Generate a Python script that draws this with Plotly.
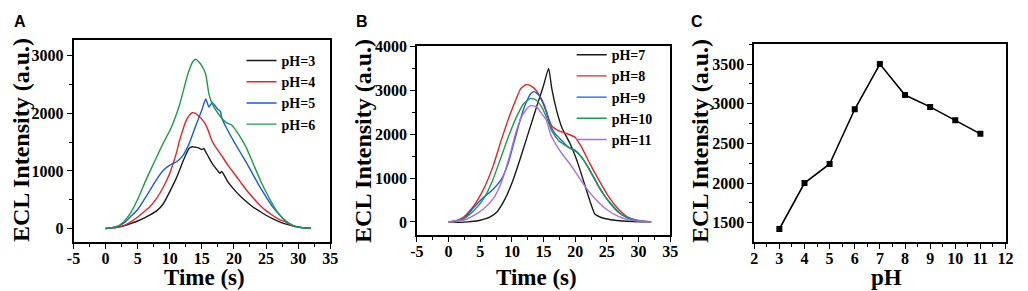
import plotly.graph_objects as go

# ---------------- Panel A data ----------------
a_t_ph3 = [0,1,2,3,4,5,6,7,8,9,10,11,12,12.5,13,13.5,14,14.5,15,15.3,15.6,16,16.5,17,17.5,17.8,18.1,19,20,21,22,23,24,25,26,27,28,29,30,31,32]
a_v_ph3 = [0,10,25,50,90,130,180,240,310,430,640,870,1150,1280,1390,1420,1410,1400,1370,1390,1330,1250,1150,1070,1000,960,990,820,680,560,460,370,300,230,170,120,80,50,25,10,5]
a_t_ph4 = [0,1,2,3,4,5,6,7,8,9,10,10.5,11,11.5,12,12.5,13,13.5,14,14.5,15,15.5,16,16.5,17,18,19,20,21,22,23,24,25,26,27,28,29,29.6]
a_v_ph4 = [0,8,25,60,120,200,290,390,530,720,960,1120,1300,1520,1700,1860,1960,2010,2000,1950,1900,1820,1700,1540,1440,1280,1110,960,810,660,530,410,310,230,160,115,55,25]
a_t_ph5 = [0,1,2,3,4,5,6,7,8,9,10,11,12,13,14,15,15.6,16.1,16.6,17.4,17.9,18.1,19,20,21,22,23,24,25,26,27,28,29,30,31,32]
a_v_ph5 = [0,15,40,110,220,330,500,680,860,1010,1100,1155,1260,1470,1770,2060,2250,2110,2190,2080,2030,1920,1710,1510,1320,1130,930,730,550,380,250,140,60,25,10,5]
a_t_ph6 = [0,1,2,2.5,3,3.8,5,6.3,7.7,8.9,10.2,11.5,12.8,13.6,14.1,14.9,15.6,16.1,16.6,17.7,18.9,19.6,20.9,21.9,23,24.3,25.6,26.8,28.1,29.4,30.5,31.5,32]
a_v_ph6 = [0,15,45,85,140,253,507,845,1182,1464,1746,2140,2675,2900,2938,2843,2675,2337,2168,1971,1830,1802,1605,1408,1126,789,507,282,124,45,15,5,0]

# ---------------- Panel B data ----------------
b_t_ph7 = [0,1,2,3,4,5,6,6.5,7.6,8.9,10.2,11.4,12.7,14.0,15.0,15.8,16.3,17.1,17.9,19.2,20,20.5,21.5,22.5,23.1,24.1,25.6,27,28.2,30,32]
b_v_ph7 = [0,-10,-10,0,15,37,80,111,222,518,963,1481,2074,2667,3111,3500,3037,2518,2148,1780,1500,1300,850,400,180,100,50,25,15,5,0]
b_t_ph8 = [0,1,2.4,4,5.5,7,8.3,9.6,10.7,11.4,12.2,13,13.8,14.8,15.6,16.3,17.4,18.9,20,21,22.3,23.7,25.2,26.8,28.3,29.8,32]
b_v_ph8 = [0,20,111,370,740,1260,1852,2407,2815,3037,3126,3100,3000,2741,2444,2185,2074,2000,1926,1704,1333,963,593,296,111,37,0]
b_t_ph9 = [0,1,2.4,4,5.5,7,8.3,9.4,10.4,11.4,12.2,13,13.5,14.3,15.1,15.6,16.1,16.9,17.9,18.9,20,21,22.3,23.7,25.2,26.8,28.3,29.8,32]
b_v_ph9 = [0,15,74,333,555,740,963,1333,1852,2370,2704,2926,2970,2889,2667,2444,2185,2000,1852,1704,1630,1481,1185,815,481,222,89,30,0]
b_t_ph10 = [0,1,2.4,4,5.5,7,8.3,9.6,10.9,11.9,13,13.8,14.8,15.6,16.3,17.4,18.9,20.2,21.5,22.8,24.1,25.7,27.2,28.8,30.3,32]
b_v_ph10 = [0,15,74,259,518,963,1481,2000,2444,2704,2815,2778,2593,2333,2074,1852,1704,1593,1370,1037,704,407,185,74,15,0]
b_t_ph11 = [0,1,2.4,4,5.5,7,8.3,9.6,10.7,11.7,12.7,13.2,14,14.8,15.4,16.1,16.9,17.9,18.9,20,21,22.3,23.7,25.2,26.8,28.3,30.3,32]
b_v_ph11 = [0,10,37,148,296,518,889,1481,2074,2444,2630,2650,2611,2444,2333,2000,1778,1556,1370,1148,926,667,444,259,126,52,15,0]

# ---------------- Panel C data ----------------
c_ph = [3, 4, 5, 6, 7, 8, 9, 10, 11]
c_intensity = [1420, 2000, 2240, 2930, 3500, 3110, 2960, 2790, 2620]

# ---------------- tick labels ----------------
time_ticks = [-5, 0, 5, 10, 15, 20, 25, 30, 35]
time_ticktext = ["-5", "0", "5", "10", "15", "20", "25", "30", "35"]
a_yticks = [0, 1000, 2000, 3000]
b_yticks = [0, 1000, 2000, 3000, 4000]
c_xticks = [2, 3, 4, 5, 6, 7, 8, 9, 10, 11, 12]
c_yticks = [1500, 2000, 2500, 3000, 3500]

BLACK = "#1a1a1a"
RED = "#e0262b"
BLUE = "#1c5ad6"
GREEN = "#22994a"
PURPLE = "#a86ee6"

FONT = "Liberation Serif"
W, H = 1028, 291

fig = go.Figure()

def add_line(t, v, name, color, xa, ya, legend):
    fig.add_trace(go.Scatter(x=t, y=v, mode="lines", name=name,
                             line=dict(color=color, width=1.4, shape="spline", smoothing=0.5),
                             xaxis=xa, yaxis=ya, legend=legend))

add_line(a_t_ph3, a_v_ph3, "pH=3", BLACK, "x", "y", "legend")
add_line(a_t_ph4, a_v_ph4, "pH=4", RED, "x", "y", "legend")
add_line(a_t_ph5, a_v_ph5, "pH=5", BLUE, "x", "y", "legend")
add_line(a_t_ph6, a_v_ph6, "pH=6", GREEN, "x", "y", "legend")

add_line(b_t_ph7, b_v_ph7, "pH=7", BLACK, "x2", "y2", "legend2")
add_line(b_t_ph8, b_v_ph8, "pH=8", RED, "x2", "y2", "legend2")
add_line(b_t_ph9, b_v_ph9, "pH=9", BLUE, "x2", "y2", "legend2")
add_line(b_t_ph10, b_v_ph10, "pH=10", GREEN, "x2", "y2", "legend2")
add_line(b_t_ph11, b_v_ph11, "pH=11", PURPLE, "x2", "y2", "legend2")

fig.add_trace(go.Scatter(x=c_ph, y=c_intensity, mode="lines+markers",
                         line=dict(color="black", width=1.6),
                         marker=dict(symbol="square", size=6, color="black"),
                         xaxis="x3", yaxis="y3", showlegend=False))

def px_x(p):
    return p / W

def px_y(p):
    return 1 - p / H

def bold(labels):
    return ["<b>%s</b>" % l for l in labels]

def axis_style(vals, texts, standoff=0):
    return dict(showline=True, linecolor="black", linewidth=1.5, mirror=True,
                ticks="outside", ticklen=5, tickwidth=1.3, tickcolor="black",
                showgrid=False, zeroline=False, ticklabelstandoff=standoff,
                tickmode="array", tickvals=vals, ticktext=bold(texts),
                tickfont=dict(family=FONT, size=16, color="black", weight="bold"))

def minor(t0, dt):
    return dict(tickmode="linear", tick0=t0, dtick=dt, ticks="outside", ticklen=3, tickcolor="black")

fig.update_layout(
    width=W, height=H,
    margin=dict(l=0, r=0, t=0, b=0),
    paper_bgcolor="white", plot_bgcolor="white",
    xaxis=dict(domain=[px_x(67.5), px_x(328)], anchor="y", range=[-5, 35], minor=minor(-5, 2.5),
               **axis_style(time_ticks, time_ticktext, -4)),
    yaxis=dict(domain=[px_y(240.7), px_y(33.3)], anchor="x", range=[-236, 3267], minor=minor(0, 500),
               **axis_style(a_yticks, [str(v) for v in a_yticks])),
    xaxis2=dict(domain=[px_x(416), px_x(673)], anchor="y2", range=[-5, 35], minor=minor(-5, 2.5),
                **axis_style(time_ticks, time_ticktext, -4)),
    yaxis2=dict(domain=[px_y(233.3), px_y(39.5)], anchor="x2", range=[-296, 4000], minor=minor(0, 500),
                **axis_style(b_yticks, [str(v) for v in b_yticks])),
    xaxis3=dict(domain=[px_x(758.3), px_x(1013.3)], anchor="y3", range=[2, 12], minor=minor(2, 0.5),
                **axis_style(c_xticks, [str(v) for v in c_xticks], -4)),
    yaxis3=dict(domain=[px_y(240.7), px_y(36.7)], anchor="x3", range=[1255, 3757], minor=minor(1500, 250),
                **axis_style(c_yticks, [str(v) for v in c_yticks])),
    legend=dict(x=px_x(238), y=px_y(38), xanchor="left", yanchor="top",
                bgcolor="rgba(0,0,0,0)", font=dict(family=FONT, size=14, color="black", weight="bold"),
                tracegroupgap=0, itemwidth=30),
    legend2=dict(x=px_x(573), y=px_y(32), xanchor="left", yanchor="top",
                 bgcolor="rgba(0,0,0,0)", font=dict(family=FONT, size=14, color="black", weight="bold"),
                 tracegroupgap=0, itemwidth=30),
)

annotations = []
title_font = dict(family=FONT, size=24, color="black", weight="bold")
xtitle_font = dict(family=FONT, size=23, color="black", weight="bold")
for xc, yc in [(14, 136), (362, 137), (704, 137)]:
    annotations.append(dict(text="ECL Intensity (a.u.)", x=px_x(xc), y=px_y(yc), xref="paper", yref="paper",
                            showarrow=False, textangle=-90, font=title_font, xanchor="center", yanchor="middle"))
for xc, txt in [(200, "Time (s)"), (537.5, "Time (s)"), (893, "pH")]:
    annotations.append(dict(text=txt, x=px_x(xc), y=px_y(277), xref="paper", yref="paper",
                            showarrow=False, font=xtitle_font, xanchor="center", yanchor="middle"))
for xc, txt in [(13, "A"), (360, "B"), (700, "C")]:
    annotations.append(dict(text=txt, x=px_x(xc), y=px_y(14), xref="paper", yref="paper",
                            showarrow=False, font=dict(family="Liberation Sans", size=16, color="black", weight="bold"),
                            xanchor="center", yanchor="middle"))
fig.update_layout(annotations=annotations)

# remove the browser's default 8px body margin so the figure sits at the page origin
fig.write_html("out.html", config={"displayModeBar": False},
               post_script="document.body.style.margin='0';")
